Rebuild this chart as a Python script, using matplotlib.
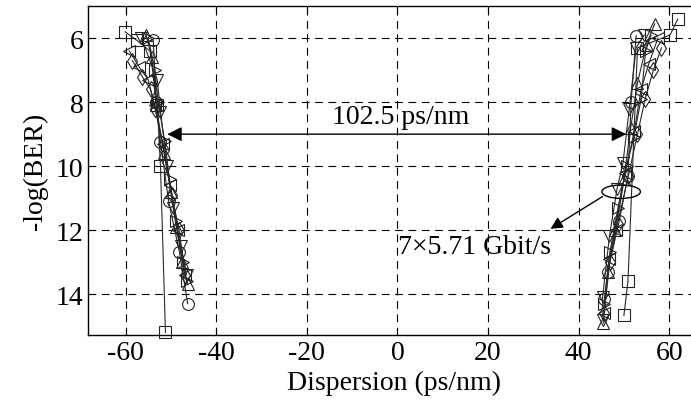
import matplotlib
matplotlib.use("Agg")
import matplotlib.pyplot as plt
from matplotlib.patches import Ellipse

plt.rcParams['font.family'] = ['Liberation Serif', 'DejaVu Serif']
plt.rcParams['mathtext.fontset'] = 'stix'

markers = ['s', 'o', '^', 'v', 'd', '<', '>']

# Left branch (negative dispersion): x values and -log(BER) values per channel
left_x = [
    [-60.1, -57.5, -54.6, -53.0, -52.3, -51.2],
    [-53.9, -53.2, -52.3, -50.5, -48.1, -46.3],
    [-55.5, -54.2, -53.3, -51.5, -50.0, -48.8, -47.5, -46.3],
    [-56.5, -53.0, -52.3, -50.8, -49.5, -47.8, -46.5],
    [-58.5, -56.3, -54.5, -53.5, -51.5, -49.8, -48.2, -46.8],
    [-59.2, -57.0, -55.0, -53.6, -51.8, -50.2, -48.5, -46.8],
    [-55.0, -53.5, -52.8, -51.4, -50.3, -48.8, -47.4, -46.5],
]
left_y = [
    [5.8, 6.07, 6.4, 8.1, 10.0, 15.2],
    [6.05, 8.0, 9.24, 11.1, 12.7, 14.3],
    [5.9, 6.6, 8.1, 9.6, 10.8, 11.9, 13.0, 13.7],
    [6.0, 7.3, 8.3, 10.0, 11.3, 12.5, 13.4],
    [6.7, 7.2, 7.6, 8.2, 9.5, 10.9, 12.0, 13.4],
    [6.4, 6.9, 7.3, 8.1, 9.3, 10.6, 12.0, 13.4],
    [6.0, 7.0, 8.0, 9.2, 10.4, 11.7, 13.0, 13.6],
]

# Right branch (positive dispersion)
right_x = [
    [61.9, 60.2, 53.0, 50.9, 50.0],
    [52.7, 51.6, 50.9, 49.0, 46.4, 45.7],
    [56.8, 55.0, 53.0, 51.5, 50.0, 48.0, 46.5, 45.5],
    [54.5, 52.7, 51.2, 49.8, 48.5, 46.8, 45.3, 45.4],
    [58.3, 56.5, 54.7, 53.0, 51.0, 48.6, 46.9, 45.6],
    [57.5, 55.5, 53.8, 52.3, 50.3, 48.2, 46.7, 45.6],
    [56.0, 54.8, 53.8, 52.2, 50.6, 48.7, 46.9, 45.7],
]
right_y = [
    [5.4, 5.9, 6.3, 13.6, 14.67],
    [5.92, 8.0, 10.3, 11.7, 13.3, 14.15],
    [5.55, 6.2, 7.4, 8.8, 10.4, 12.0, 13.3, 14.9],
    [5.9, 6.3, 8.2, 9.9, 10.7, 12.2, 14.1, 14.8],
    [6.3, 7.0, 7.9, 9.0, 10.3, 11.8, 13.0, 14.6],
    [6.0, 6.8, 7.6, 8.9, 10.2, 12.0, 12.9, 14.6],
    [5.9, 6.4, 7.9, 9.1, 10.0, 11.3, 12.7, 14.3],
]

xticks = [-60, -40, -20, 0, 20, 40, 60]
yticks = [6, 8, 10, 12, 14]

fig = plt.figure(figsize=(6.91, 4.02), dpi=100)
ax = fig.add_axes([0.128, 0.165, 0.885, 0.817])

for m, xs, ys in zip(markers, left_x, left_y):
    ax.plot(xs, ys, marker=m, color='#2a2a2a', lw=0.8, ms=8.5, mfc='none',
            mec='#222222', mew=0.8, clip_on=False, zorder=3)
for m, xs, ys in zip(markers, right_x, right_y):
    ax.plot(xs, ys, marker=m, color='#2a2a2a', lw=0.8, ms=8.5, mfc='none',
            mec='#222222', mew=0.8, clip_on=False, zorder=3)

ax.set_xlim(-68.2, 66.8)
ax.set_ylim(15.27, 5.0)
ax.set_xticks(xticks)
ax.set_yticks(yticks)
ax.set_xticklabels([str(v) for v in xticks])
ax.tick_params(direction='in', top=True, right=True, labelsize=20, length=5, width=0.8)
ax.grid(True, color='black', ls=(0, (7, 5)), lw=0.8)
for s in ax.spines.values():
    s.set_linewidth(1.0)

ax.set_xlabel('Dispersion (ps/nm)', fontsize=20, labelpad=4)
ax.set_ylabel('-log(BER)', fontsize=20, labelpad=6)

# double arrow
ax.annotate('', xy=(-50.8, 9.0), xytext=(50.5, 9.0),
            arrowprops=dict(arrowstyle='<|-|>', color='black', lw=1.0,
                            mutation_scale=22, shrinkA=0, shrinkB=0), zorder=4)
ax.text(0.8, 8.45, '102.5 ps/nm', fontsize=20, ha='center', va='center', zorder=5)

# ellipse + arrow
ell = Ellipse((49.4, 10.8), 8.5, 0.42, fill=False, ec='black', lw=1.0, zorder=4)
ax.add_patch(ell)
ax.annotate('', xy=(33.8, 11.96), xytext=(45.3, 10.95),
            arrowprops=dict(arrowstyle='-|>', color='black', lw=1.0,
                            mutation_scale=18, shrinkA=0, shrinkB=0), zorder=4)
ax.text(17.1, 12.5, '7×5.71 Gbit/s', fontsize=20, ha='center', va='center', zorder=5)

fig.savefig('out.png', dpi=100)
